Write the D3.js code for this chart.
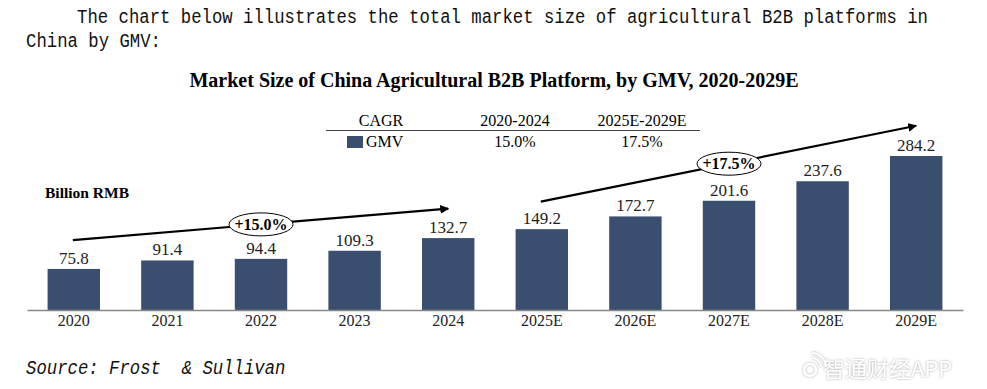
<!DOCTYPE html>
<html>
<head>
<meta charset="utf-8">
<script src="https://cdn.jsdelivr.net/npm/d3@7"></script>
<style>
  body { margin: 0; background: #fff; }
  svg { display: block; }
</style>
</head>
<body>
<svg id="chart"></svg>
<script>
  const years = ['2020', '2021', '2022', '2023', '2024', '2025E', '2026E', '2027E', '2028E', '2029E'];
  const gmv = [75.8, 91.4, 94.4, 109.3, 132.7, 149.2, 172.7, 201.6, 237.6, 284.2];
  const cagrPeriods = ['2020-2024', '2025E-2029E'];
  const cagrValues = ['15.0%', '17.5%'];
  // trend arrows: from category/level to category/level
  const arrowFrom = ['2020', '2025E'];
  const arrowTo = ['2024', '2029E'];
  const arrowFromLevel = [129, 200];
  const arrowToLevel = [187, 340];
  const arrowLabels = ['+15.0%', '+17.5%'];

  const width = 987;
  const height = 389;
  const serif = '"Liberation Serif", "Times New Roman", serif';
  const mono = '"Liberation Mono", "DejaVu Sans Mono", monospace';
  const barColor = '#3a4e6f';

  const svg = d3.select('#chart')
    .attr('width', width)
    .attr('height', height);

  const defs = svg.append('defs');
  defs.append('marker')
    .attr('id', 'arrowhead')
    .attr('viewBox', '0 0 10 10')
    .attr('refX', 9)
    .attr('refY', 5)
    .attr('markerWidth', 4)
    .attr('markerHeight', 4)
    .attr('orient', 'auto')
    .append('path')
    .attr('d', 'M0,0 L10,5 L0,10 z')
    .attr('fill', '#000');

  const glow = defs.append('filter').attr('id', 'glow')
    .attr('x', '-10%').attr('y', '-30%').attr('width', '120%').attr('height', '160%');
  glow.append('feDropShadow')
    .attr('dx', 0).attr('dy', 0).attr('stdDeviation', 1.2)
    .attr('flood-color', '#999').attr('flood-opacity', 0.9);

  // intro paragraph
  svg.append('text')
    .attr('transform', 'translate(77,23) scale(1,1.12)')
    .style('font-family', mono).style('font-size', '17.3px')
    .attr('fill', '#111')
    .text('The chart below illustrates the total market size of agricultural B2B platforms in');
  svg.append('text')
    .attr('transform', 'translate(26,47) scale(1,1.12)')
    .style('font-family', mono).style('font-size', '17.3px')
    .attr('fill', '#111')
    .text('China by GMV:');

  // title
  svg.append('text')
    .attr('x', 494).attr('y', 87)
    .attr('text-anchor', 'middle')
    .style('font-family', serif).style('font-size', '20px').style('font-weight', 'bold')
    .text('Market Size of China Agricultural B2B Platform, by GMV, 2020-2029E');

  // scales
  const x = d3.scaleBand()
    .domain(years)
    .range([27, 963])
    .paddingInner(0.44)
    .paddingOuter(0.22);

  const y = d3.scaleLinear()
    .domain([0, 284.2])
    .range([310, 156]);

  // CAGR table
  const table = svg.append('g').attr('class', 'cagr-table');
  const colX = [381, 515, 642];
  const tableFont = '16px';
  table.append('text')
    .attr('x', colX[0]).attr('y', 126)
    .attr('text-anchor', 'middle')
    .style('font-family', serif).style('font-size', tableFont)
    .text('CAGR');
  table.selectAll('text.period')
    .data(cagrPeriods)
    .enter().append('text')
    .attr('class', 'period')
    .attr('x', (d, i) => colX[i + 1]).attr('y', 126)
    .attr('text-anchor', 'middle')
    .style('font-family', serif).style('font-size', tableFont)
    .text(d => d);
  table.append('line')
    .attr('x1', 326).attr('x2', 700)
    .attr('y1', 130.5).attr('y2', 130.5)
    .attr('stroke', '#444').attr('stroke-width', 1.2);
  table.append('rect')
    .attr('x', 347).attr('y', 136)
    .attr('width', 16).attr('height', 12)
    .attr('fill', barColor);
  table.append('text')
    .attr('x', 366).attr('y', 147)
    .style('font-family', serif).style('font-size', tableFont)
    .text('GMV');
  table.selectAll('text.cagr')
    .data(cagrValues)
    .enter().append('text')
    .attr('class', 'cagr')
    .attr('x', (d, i) => colX[i + 1]).attr('y', 147)
    .attr('text-anchor', 'middle')
    .style('font-family', serif).style('font-size', tableFont)
    .text(d => d);

  // unit label
  svg.append('text')
    .attr('x', 45).attr('y', 198)
    .style('font-family', serif).style('font-size', '15.5px').style('font-weight', 'bold')
    .text('Billion RMB');

  // bars
  svg.append('g').selectAll('rect')
    .data(gmv)
    .enter().append('rect')
    .attr('x', (d, i) => x(years[i]))
    .attr('y', d => y(d))
    .attr('width', x.bandwidth())
    .attr('height', d => y(0) - y(d))
    .attr('fill', barColor);

  // value labels
  svg.append('g').selectAll('text')
    .data(gmv)
    .enter().append('text')
    .attr('x', (d, i) => x(years[i]) + x.bandwidth() / 2)
    .attr('y', d => y(d) - 5)
    .attr('text-anchor', 'middle')
    .style('font-family', serif).style('font-size', '17px')
    .attr('fill', '#222')
    .text(d => d.toFixed(1));

  // x axis
  const xAxis = svg.append('g')
    .attr('transform', 'translate(0,' + y(0) + ')')
    .call(d3.axisBottom(x).tickSize(0).tickPadding(5));
  xAxis.select('.domain').attr('stroke', '#888').attr('stroke-width', 1.3);
  xAxis.selectAll('text')
    .style('font-family', serif).style('font-size', '16px')
    .attr('fill', '#222');

  // CAGR arrows
  const arrows = svg.append('g').attr('class', 'arrows');
  arrowLabels.forEach(function(label, i) {
    const x1 = x(arrowFrom[i]) + x.bandwidth() / 2;
    const x2 = x(arrowTo[i]) + x.bandwidth() / 2;
    const y1 = y(arrowFromLevel[i]);
    const y2 = y(arrowToLevel[i]);
    arrows.append('line')
      .attr('x1', x1 - 1).attr('y1', y1)
      .attr('x2', x2).attr('y2', y2)
      .attr('stroke', '#000').attr('stroke-width', 2.2)
      .attr('marker-end', 'url(#arrowhead)');
    const t = 0.5;
    const cx = x1 + (x2 - x1) * t;
    const cy = y1 + (y2 - y1) * t;
    arrows.append('ellipse')
      .attr('cx', cx).attr('cy', cy)
      .attr('rx', 32).attr('ry', 11.5)
      .attr('fill', '#fff').attr('stroke', '#000').attr('stroke-width', 1);
    arrows.append('text')
      .attr('x', cx).attr('y', cy + 5.5)
      .attr('text-anchor', 'middle')
      .style('font-family', serif).style('font-size', '16px').style('font-weight', 'bold')
      .text(label);
  });

  // source
  svg.append('text')
    .attr('transform', 'translate(26,374) scale(1,1.12)')
    .style('font-family', mono).style('font-size', '17.3px').style('font-style', 'italic')
    .attr('fill', '#111')
    .attr('xml:space', 'preserve')
    .text('Source: Frost  & Sullivan');

  // watermark
  const wm = svg.append('g').attr('filter', 'url(#glow)');
  wm.append('circle').attr('cx', 810).attr('cy', 370).attr('r', 6)
    .attr('fill', 'none').attr('stroke', '#fff').attr('stroke-width', 2.5);
  wm.append('path').attr('d', 'M812,358 a9,9 0 0 1 9,9 M812,353 a14,14 0 0 1 14,14')
    .attr('fill', 'none').attr('stroke', '#fff').attr('stroke-width', 2);
  wm.append('text')
    .attr('x', 823).attr('y', 377)
    .style('font-family', '"Noto Sans CJK SC", sans-serif').style('font-size', '22px')
    .attr('fill', '#fff')
    .text('智通财经APP');
</script>
</body>
</html>
